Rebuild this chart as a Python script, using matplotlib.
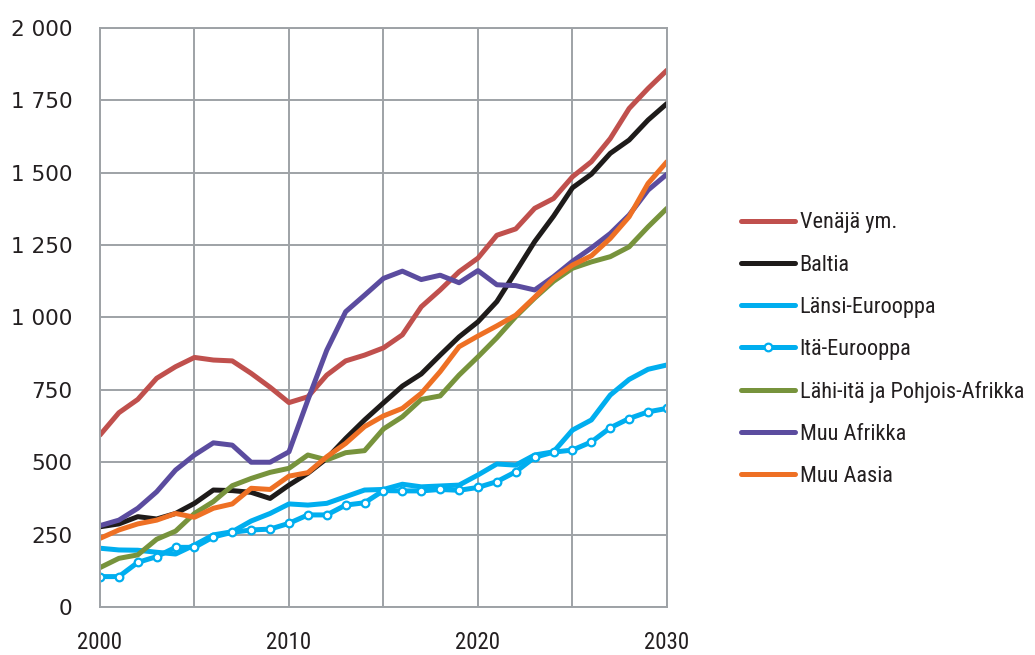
import numpy as np
import matplotlib
matplotlib.use("Agg")
import matplotlib.pyplot as plt
from matplotlib.ticker import MultipleLocator, FuncFormatter

years = list(range(2000, 2031))

venaja = [594, 671, 717, 790, 830, 862, 853, 850, 807, 759, 706, 726, 801, 850, 870, 895,
          940, 1037, 1095, 1158, 1205, 1284, 1306, 1377, 1411, 1486, 1538, 1618, 1722, 1791, 1854]
baltia = [277, 287, 312, 304, 323, 358, 404, 402, 396, 375, 421, 462, 513, 582, 646, 705,
          763, 805, 870, 933, 985, 1055, 1158, 1262, 1350, 1448, 1495, 1567, 1613, 1682, 1739]
lansi = [203, 197, 196, 189, 183, 214, 249, 260, 297, 323, 356, 352, 358, 381, 404, 406,
         424, 415, 418, 421, 456, 494, 490, 525, 536, 611, 646, 732, 786, 821, 836]
ita = [105, 105, 154, 174, 206, 206, 242, 258, 266, 269, 289, 318, 318, 352, 360, 402,
       401, 401, 406, 403, 413, 433, 467, 517, 535, 542, 570, 619, 651, 674, 686]
lahi = [136, 168, 180, 234, 262, 323, 364, 419, 444, 465, 479, 525, 508, 533, 540, 615,
        657, 717, 729, 801, 864, 930, 1003, 1067, 1125, 1170, 1192, 1210, 1244, 1313, 1377]
muu_afrikka = [281, 300, 341, 398, 473, 525, 567, 559, 500, 500, 536, 715, 887, 1020, 1077, 1135,
               1160, 1131, 1146, 1120, 1162, 1113, 1110, 1095, 1141, 1194, 1240, 1290, 1354, 1440, 1495]
muu_aasia = [237, 266, 287, 300, 323, 310, 341, 356, 410, 406, 452, 464, 519, 565, 623, 660,
             686, 738, 813, 899, 936, 971, 1008, 1070, 1135, 1181, 1213, 1273, 1348, 1463, 1538]

nimet = ["Venäjä ym.", "Baltia", "Länsi-Eurooppa", "Itä-Eurooppa",
         "Lähi-itä ja Pohjois-Afrikka", "Muu Afrikka", "Muu Aasia"]
varit = ["#C0504D", "#1E1B1A", "#00AEEF", "#00AEEF", "#77933C", "#5B4C9F", "#EE7024"]
sarjat = [venaja, baltia, lansi, ita, lahi, muu_afrikka, muu_aasia]

# kapea kirjasin vuosille ja selitteelle, leveämpi y-akselin luvuille
kapea = ["Roboto Condensed", "Liberation Sans", "DejaVu Sans"]
levea = ["DejaVu Sans"]

fig = plt.figure(figsize=(10.35, 6.55), dpi=100)
ax = fig.add_axes([0.0966, 0.0733, 0.5478, 0.8840])

for nimi, vari, sarja in zip(nimet, varit, sarjat):
    if nimi == "Itä-Eurooppa":
        ax.plot(years, sarja, color=vari, lw=3.6, marker="o", ms=5.5,
                mfc="white", mec=vari, mew=1.6, label=nimi, solid_capstyle="round")
    else:
        ax.plot(years, sarja, color=vari, lw=3.6, label=nimi, solid_capstyle="round")

ax.set_xlim(2000, 2030)
ax.set_ylim(0, 2000)
ax.xaxis.set_major_locator(MultipleLocator(10))
ax.xaxis.set_minor_locator(MultipleLocator(5))
ax.yaxis.set_major_locator(MultipleLocator(250))
ax.yaxis.set_major_formatter(FuncFormatter(lambda v, p: f"{int(v):,}".replace(",", " ")))

gc = "#9EA2A6"
ax.grid(True, which="both", color=gc, lw=1.4)
ax.set_axisbelow(True)
for s in ax.spines.values():
    s.set_color(gc)
    s.set_linewidth(1.4)
ax.tick_params(which="both", length=0)
ax.tick_params(axis="x", pad=17, labelsize=16.5, colors="#231F20")
ax.tick_params(axis="y", pad=20, labelsize=15.5, colors="#231F20")
for t in ax.get_xticklabels():
    t.set_family(kapea)
for t in ax.get_yticklabels():
    t.set_family(levea)

leg = fig.legend(loc="center left", bbox_to_anchor=(0.6963, 0.466), frameon=False,
                 handlelength=2.45, handletextpad=0.2, labelspacing=0.95,
                 prop={"family": kapea, "size": 16})
for t in leg.get_texts():
    t.set_color("#231F20")

fig.savefig("out.png", dpi=100)
